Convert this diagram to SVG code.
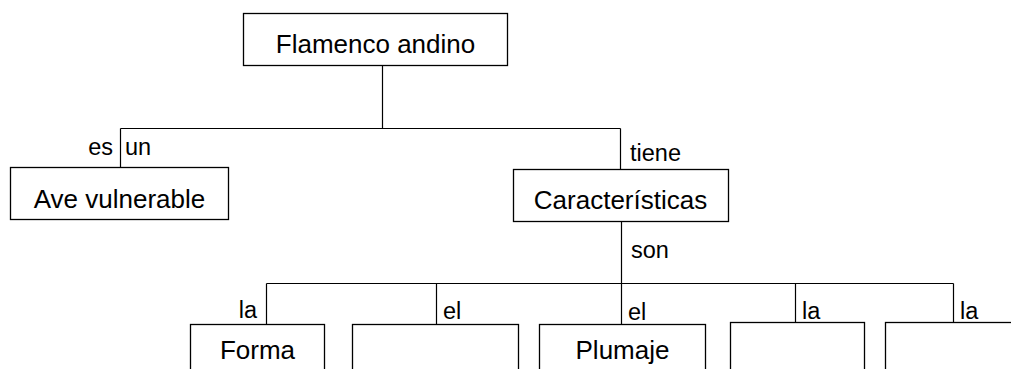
<svg xmlns="http://www.w3.org/2000/svg" width="1011" height="369" viewBox="0 0 1011 369">
<style>
.box{fill:#fff;stroke:#000;stroke-width:1.3}
.node{font-family:"Liberation Sans",Arial,sans-serif;font-size:26px;fill:#000;text-anchor:middle}
.lbl{font-family:"Liberation Sans",Arial,sans-serif;font-size:23.5px;fill:#000}
.conn{fill:none;stroke:#000;stroke-width:1.2}
</style>
<rect width="1011" height="369" fill="#fff"/>
<g id="connectors" class="conn">
<path d="M382.5 65.5V128.5M120.5 128.5H620.5M120.5 128.5V167.5M620.5 128.5V169.5"/>
<path d="M621.5 221.5V324.5M266.5 283.5H953.5M266.5 283.5V324.5M436.5 283.5V324.5M795.5 283.5V322.5M953.5 283.5V322.5"/>
</g>
<g id="labels">
<text class="lbl" x="113" y="155" text-anchor="end">es</text>
<text class="lbl" x="125" y="155">un</text>
<text class="lbl" x="630" y="161">tiene</text>
<text class="lbl" x="631" y="258">son</text>
<text class="lbl" x="257" y="318" text-anchor="end">la</text>
<text class="lbl" x="443" y="319">el</text>
<text class="lbl" x="628" y="320">el</text>
<text class="lbl" x="802" y="319">la</text>
<text class="lbl" x="960" y="319">la</text>
</g>
<g id="n-flamenco">
<rect class="box" x="243.5" y="13.5" width="264" height="52"/>
<text class="node" x="375.5" y="53">Flamenco andino</text>
</g>
<g id="n-ave">
<rect class="box" x="10.5" y="167.5" width="218" height="52"/>
<text class="node" x="119.5" y="208">Ave vulnerable</text>
</g>
<g id="n-caracteristicas">
<rect class="box" x="513.5" y="169.5" width="215" height="52"/>
<text class="node" x="620.5" y="209">Características</text>
</g>
<g id="n-forma">
<rect class="box" x="190.5" y="324.5" width="134" height="70"/>
<text class="node" x="257.5" y="359">Forma</text>
</g>
<g id="n-empty1">
<rect class="box" x="352.5" y="324.5" width="166" height="70"/>
</g>
<g id="n-plumaje">
<rect class="box" x="539.5" y="324.5" width="166" height="70"/>
<text class="node" x="622.5" y="359">Plumaje</text>
</g>
<g id="n-empty2">
<rect class="box" x="730.5" y="322.5" width="134" height="70"/>
</g>
<g id="n-empty3">
<rect class="box" x="885.5" y="322.5" width="160" height="70"/>
</g>
</svg>
